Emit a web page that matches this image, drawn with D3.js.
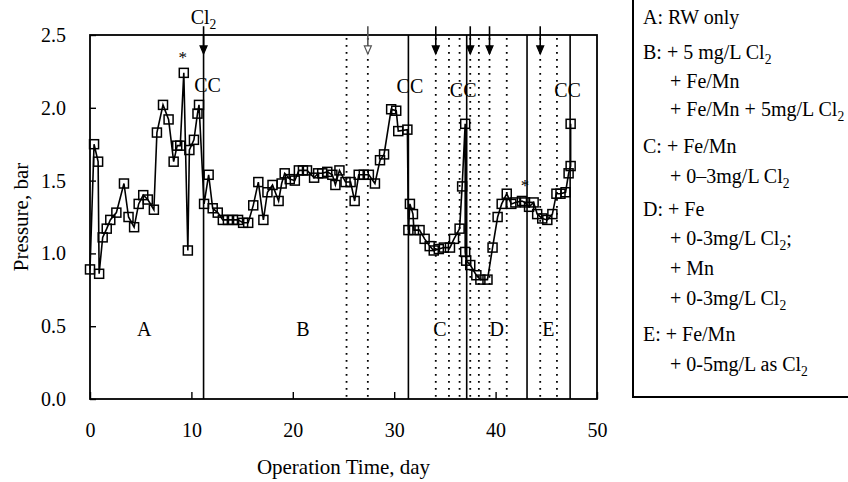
<!DOCTYPE html>
<html>
<head>
<meta charset="utf-8">
<script src="https://cdn.jsdelivr.net/npm/d3@7"></script>
<style>
  html, body { margin: 0; padding: 0; background: #fff; }
  svg text { font-family: "Liberation Serif", "DejaVu Serif", "Times New Roman", serif; fill: #000; }
</style>
</head>
<body>
<svg id="chart" width="848" height="482"></svg>
<script>
// ---------- data ----------
const days = [0.0,0.4,0.8,0.9,1.25,1.65,2.0,2.6,3.35,3.8,4.35,4.8,5.25,5.7,6.3,6.6,7.2,7.75,8.25,8.6,8.9,9.25,9.65,9.8,10.25,10.6,10.75,
  11.25,11.7,12.1,12.6,13.1,13.6,14.1,14.6,15.1,15.6,16.1,16.6,17.1,17.5,18.0,18.6,18.9,19.2,19.7,20.2,20.6,21.0,21.4,22.1,22.5,22.9,23.4,23.9,24.2,24.6,25.2,25.7,26.1,26.5,27.0,27.5,28.1,28.6,29.0,29.7,30.2,30.4,31.3,
  31.4,31.55,31.85,31.95,32.5,33.0,33.5,33.9,34.4,34.9,35.5,35.9,36.45,36.7,37.0,37.0,37.1,37.5,38.1,38.5,39.2,39.7,40.2,40.6,41.1,41.55,41.95,42.6,42.9,43.3,43.75,44.1,44.6,45.1,45.6,46.0,46.4,46.9,47.2,47.4,47.4];
const pressure = [0.89,1.75,1.63,0.86,1.11,1.17,1.23,1.28,1.48,1.25,1.18,1.34,1.40,1.37,1.30,1.83,2.02,1.92,1.63,1.74,1.74,2.24,1.02,1.71,1.78,1.96,2.02,
  1.34,1.54,1.31,1.28,1.23,1.23,1.23,1.23,1.21,1.21,1.33,1.49,1.23,1.42,1.47,1.36,1.48,1.55,1.51,1.50,1.57,1.57,1.57,1.52,1.55,1.55,1.56,1.54,1.47,1.57,1.49,1.49,1.36,1.54,1.54,1.54,1.48,1.64,1.68,1.99,1.98,1.84,1.85,
  1.16,1.34,1.27,1.16,1.16,1.10,1.05,1.02,1.03,1.04,1.04,1.10,1.17,1.46,1.89,1.01,0.95,0.92,0.85,0.82,0.82,1.04,1.25,1.34,1.41,1.34,1.35,1.36,1.35,1.32,1.35,1.27,1.24,1.23,1.27,1.41,1.41,1.42,1.55,1.60,1.89];

const xTicks = [0, 10, 20, 30, 40, 50];
const yTicks = [0.0, 0.5, 1.0, 1.5, 2.0, 2.5];

const solidLines = [11.2, 31.4, 37.15, 43.1, 47.35];
const dottedLines = [25.3, 27.4, 34.1, 35.4, 36.45, 37.5, 38.35, 39.4, 41.1, 44.4, 46.05];
const arrowDays = [11.2, 34.1, 37.5, 39.4, 44.4];
const hollowArrowDays = [27.4];

const ccLabels = [[11.6, 2.16], [31.55, 2.15], [36.8, 2.12], [47.1, 2.12]];
const stars = [[9.15, 2.37], [42.9, 1.49]];
const regionNames = ["A", "B", "C", "D", "E"];
const regionX = [5.35, 21.0, 34.5, 40.1, 45.2];
const regionY = 0.48;

const legendLines = [
  ["A: RW only", 0, 18],
  ["B: + 5 mg/L Cl_2", 0, 53],
  ["+ Fe/Mn", 1, 82],
  ["+ Fe/Mn + 5mg/L Cl_2", 1, 110],
  ["C: + Fe/Mn", 0, 147],
  ["+ 0\u20133mg/L Cl_2", 1, 177],
  ["D: + Fe", 0, 210],
  ["+ 0-3mg/L Cl_2;", 1, 239],
  ["+ Mn", 1, 269],
  ["+ 0-3mg/L Cl_2", 1, 299],
  ["E: + Fe/Mn", 0, 335],
  ["+ 0-5mg/L as Cl_2", 1, 365]
];

(function () {
// ---------- layout ----------
const svg = d3.select("#chart");
const pL = 90, pR = 597, pT = 35, pB = 399;
const x = d3.scaleLinear().domain([0, 50]).range([pL, pR]);
const y = d3.scaleLinear().domain([0, 2.5]).range([pB, pT]);
const FS = 20;

// text with "_2" rendered as a subscript 2
function subText(sel, str, size) {
  const parts = str.split("_2");
  let shift = 0;
  parts.forEach((p, i) => {
    if (p.length) {
      const t = sel.append("tspan").text(p);
      if (shift) { t.attr("dy", -shift); shift = 0; }
    }
    if (i < parts.length - 1) {
      sel.append("tspan").attr("dy", 5).attr("font-size", size * 0.68).text("2");
      shift = 5;
    }
  });
}

// vertical phase lines
svg.append("g").selectAll("line").data(solidLines).join("line")
  .attr("x1", d => x(d)).attr("x2", d => x(d))
  .attr("y1", pT).attr("y2", pB)
  .attr("stroke", "#000").attr("stroke-width", 1.6);
svg.append("g").selectAll("line").data(dottedLines).join("line")
  .attr("x1", d => x(d)).attr("x2", d => x(d))
  .attr("y1", pT + 3).attr("y2", pB)
  .attr("stroke", "#000").attr("stroke-width", 1.8)
  .attr("stroke-dasharray", "1.8,5.2");

// frame
svg.append("rect").attr("x", pL).attr("y", pT)
  .attr("width", pR - pL).attr("height", pB - pT)
  .attr("fill", "none").attr("stroke", "#000").attr("stroke-width", 1.8);

// axes
const xAxis = d3.axisBottom(x).tickValues(xTicks).tickSizeInner(-7).tickSizeOuter(0).tickPadding(24).tickFormat(d3.format("d"));
const gx = svg.append("g").attr("transform", `translate(0,${pB})`).call(xAxis);
const yAxis = d3.axisLeft(y).tickValues(yTicks).tickSizeInner(-6).tickSizeOuter(0).tickPadding(24).tickFormat(d3.format(".1f"));
const gy = svg.append("g").attr("transform", `translate(${pL},0)`).call(yAxis);
[gx, gy].forEach(g => {
  g.attr("font-family", null);
  g.select(".domain").remove();
  g.selectAll(".tick line").attr("stroke", "#000").attr("stroke-width", 1.4);
  g.selectAll(".tick text").attr("font-size", FS).attr("fill", "#000");
});

// axis titles
svg.append("text").attr("x", x(25)).attr("y", 474).attr("text-anchor", "middle")
  .attr("font-size", 21).text("Operation Time, day");
svg.append("text").attr("transform", `translate(28,${(pT + pB) / 2}) rotate(-90)`)
  .attr("text-anchor", "middle").attr("font-size", 21).text("Pressure, bar");

// data line and markers
const pts = days.map((d, i) => [d, pressure[i]]);
svg.append("path").datum(pts)
  .attr("d", d3.line().x(d => x(d[0])).y(d => y(d[1])))
  .attr("fill", "none").attr("stroke", "#000").attr("stroke-width", 1.6);
const S = 9;
svg.append("g").selectAll("rect").data(pts).join("rect")
  .attr("x", d => x(d[0]) - S / 2).attr("y", d => y(d[1]) - S / 2)
  .attr("width", S).attr("height", S)
  .attr("fill", "none").attr("stroke", "#000").attr("stroke-width", 1.5);

// arrows
const aTop = 2.56, aTip = 2.37;
function arrow(d, hollow) {
  const cx = x(d), y0 = y(aTop), y1 = y(aTip);
  const col = hollow ? "#555" : "#000";
  svg.append("line").attr("x1", cx).attr("x2", cx).attr("y1", y0).attr("y2", y1 - 6)
    .attr("stroke", col).attr("stroke-width", 1.6);
  svg.append("path").attr("d", `M${cx - 3.5},${y1 - 8} L${cx + 3.5},${y1 - 8} L${cx},${y1} Z`)
    .attr("fill", hollow ? "#fff" : "#000").attr("stroke", col).attr("stroke-width", 1.2);
}
arrowDays.forEach(d => arrow(d, false));
hollowArrowDays.forEach(d => arrow(d, true));

// Cl2 label on top
const cl = svg.append("text").attr("x", x(11.2)).attr("y", 24).attr("text-anchor", "middle").attr("font-size", FS);
subText(cl, "Cl_2", FS);

// CC labels
svg.append("g").selectAll("text").data(ccLabels).join("text")
  .attr("x", d => x(d[0])).attr("y", d => y(d[1]) + 7)
  .attr("text-anchor", "middle").attr("font-size", FS).text("CC");

// stars
svg.append("g").selectAll("text").data(stars).join("text")
  .attr("x", d => x(d[0])).attr("y", d => y(d[1]) + 9)
  .attr("text-anchor", "middle").attr("font-size", 17).text("*");

// region labels
svg.append("g").selectAll("text").data(regionNames).join("text")
  .attr("x", (d, i) => x(regionX[i])).attr("y", y(regionY) + 7)
  .attr("text-anchor", "middle").attr("font-size", FS).text(d => d);

// legend box
svg.append("rect").attr("x", 633).attr("y", -3).attr("width", 230).attr("height", 400)
  .attr("fill", "none").attr("stroke", "#000").attr("stroke-width", 2);
legendLines.forEach(([t, ind, yy]) => {
  const tx = svg.append("text").attr("x", ind ? 670 : 643).attr("y", yy + 6).attr("font-size", FS);
  subText(tx, t, FS);
});
})();
</script>
</body>
</html>
